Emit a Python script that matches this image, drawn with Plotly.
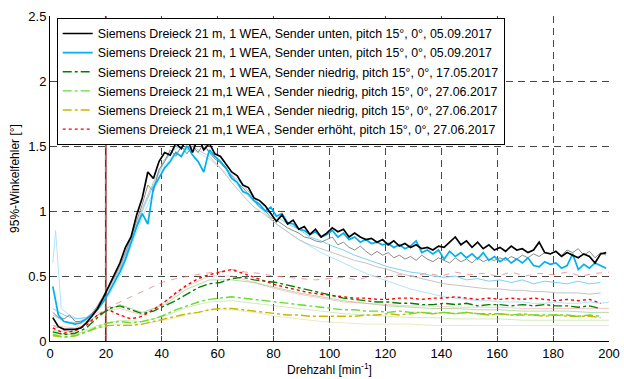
import plotly.graph_objects as go

# ---------------- data ----------------
x2 = list(range(1, 200, 2))          # 1,3,...,199
x4 = list(range(1, 200, 4))          # 1,5,...,197
x8 = [1, 9, 17, 25, 33, 41, 49, 57, 65, 73, 81, 89, 97, 105, 113, 121, 129, 137,
      145, 153, 161, 169, 177, 185, 193, 200]

black_y = [0.18, 0.11, 0.09, 0.09, 0.09, 0.10, 0.14, 0.19, 0.25, 0.33,
           0.42, 0.50, 0.60, 0.72, 0.80, 0.97, 1.10, 1.30, 1.25, 1.38,
           1.45, 1.43, 1.52, 1.48, 1.56, 1.45, 1.57, 1.47, 1.52, 1.44,
           1.42, 1.36, 1.30, 1.27, 1.20, 1.18, 1.10, 1.08, 1.04, 0.98,
           0.92, 0.97, 0.90, 0.93, 0.86, 0.88, 0.82, 0.86, 0.80, 0.83,
           0.87, 0.84, 0.86, 0.80, 0.83, 0.80, 0.78, 0.79, 0.76, 0.78,
           0.74, 0.77, 0.73, 0.75, 0.72, 0.74, 0.71, 0.72, 0.70, 0.73,
           0.72, 0.76, 0.80, 0.74, 0.77, 0.72, 0.76, 0.71, 0.74, 0.70,
           0.72, 0.69, 0.73, 0.70, 0.71, 0.68, 0.70, 0.76, 0.68, 0.67,
           0.69, 0.65, 0.68, 0.66, 0.64, 0.67, 0.65, 0.60, 0.67, 0.68]

blue_y = [0.42, 0.20, 0.15, 0.14, 0.13, 0.14, 0.17, 0.20, 0.24, 0.30,
          0.37, 0.45, 0.53, 0.63, 0.75, 0.88, 0.98, 0.90, 1.18, 1.25,
          1.33, 1.38, 1.45, 1.42, 1.50, 1.43, 1.38, 1.30, 1.47, 1.42,
          1.38, 1.33, 1.25, 1.22, 1.15, 1.13, 1.08, 1.05, 1.00, 1.03,
          0.96, 0.98, 0.91, 0.90, 0.86, 0.85, 0.82, 0.84, 0.80, 0.82,
          0.85, 0.80, 0.83, 0.78, 0.80, 0.76, 0.78, 0.75, 0.76, 0.74,
          0.75, 0.72, 0.74, 0.71, 0.73, 0.77, 0.68, 0.70, 0.67, 0.70,
          0.63, 0.69, 0.65, 0.68, 0.64, 0.67, 0.63, 0.68, 0.62, 0.65,
          0.61, 0.64, 0.60, 0.63, 0.60, 0.64, 0.58, 0.57, 0.61, 0.59,
          0.60, 0.56, 0.58, 0.67, 0.55, 0.59, 0.56, 0.60, 0.58, 0.56]

gray_y = [0.22, 0.18, 0.17, 0.20, 0.15, 0.15, 0.17, 0.21, 0.27, 0.34,
          0.42, 0.49, 0.58, 0.68, 0.80, 0.93, 1.05, 1.20, 1.15, 1.32,
          1.38, 1.47, 1.42, 1.50, 1.44, 1.50, 1.45, 1.52, 1.45, 1.40,
          1.37, 1.32, 1.27, 1.22, 1.18, 1.13, 1.08, 1.03, 1.00, 0.95,
          0.93, 0.90, 0.87, 0.85, 0.83, 0.80, 0.79, 0.77, 0.76, 0.78,
          0.80, 0.74, 0.76, 0.72, 0.70, 0.73, 0.69, 0.66, 0.69, 0.66,
          0.68, 0.64, 0.66, 0.63, 0.65, 0.62, 0.66, 0.63, 0.61, 0.64,
          0.62, 0.60, 0.64, 0.61, 0.63, 0.60, 0.64, 0.61, 0.63, 0.62,
          0.64, 0.62, 0.65, 0.63, 0.66, 0.64, 0.67, 0.65, 0.68, 0.67,
          0.69, 0.66, 0.70, 0.68, 0.71, 0.66, 0.69, 0.64, 0.68, 0.66]

lightgray_y = [0.20, 0.15, 0.14, 0.17, 0.26, 0.40, 0.56, 0.78, 1.02, 1.22,
               1.40, 1.48, 1.52, 1.47, 1.42, 1.33, 1.22, 1.12, 1.03, 0.97,
               0.90, 0.84, 0.78, 0.74, 0.71, 0.68, 0.65, 0.62, 0.60, 0.57,
               0.55, 0.52, 0.50, 0.48, 0.46, 0.44, 0.43, 0.42, 0.41, 0.40,
               0.40, 0.39, 0.39, 0.38, 0.38, 0.37, 0.37, 0.37, 0.36, 0.37]

lightblue_y = [0.25, 0.20, 0.17, 0.18, 0.25, 0.38, 0.55, 0.77, 1.00, 1.20,
               1.38, 1.50, 1.47, 1.53, 1.45, 1.38, 1.28, 1.20, 1.10, 1.00,
               0.96, 0.90, 0.86, 0.80, 0.77, 0.73, 0.70, 0.66, 0.63, 0.60,
               0.57, 0.55, 0.53, 0.52, 0.50, 0.49, 0.50, 0.47, 0.48, 0.46,
               0.47, 0.45, 0.47, 0.44, 0.46, 0.45, 0.44, 0.46, 0.44, 0.45]

paleblue_x = [1, 2, 4, 7, 10, 13, 17, 21, 25, 29, 33, 37, 41, 45, 49, 53, 57, 61,
              65, 69, 73, 77, 81, 85, 89, 93, 97, 101, 105, 109, 113, 117, 121,
              125, 129, 133, 137, 141, 145, 149, 153, 157, 161, 165, 169, 173,
              177, 181, 185, 189, 193, 197, 200]
paleblue_y = [0.60, 0.85, 0.25, 0.20, 0.17, 0.18, 0.24, 0.35, 0.50, 0.72, 0.95,
              1.15, 1.35, 1.45, 1.50, 1.45, 1.40, 1.33, 1.25, 1.15, 1.07, 0.98,
              0.90, 0.84, 0.78, 0.73, 0.68, 0.64, 0.60, 0.56, 0.52, 0.49, 0.46,
              0.43, 0.40, 0.38, 0.36, 0.34, 0.33, 0.32, 0.31, 0.31, 0.30, 0.30,
              0.30, 0.29, 0.29, 0.30, 0.29, 0.29, 0.30, 0.29, 0.30]

pink_x = [1, 5, 10, 15, 20, 25, 30, 35, 40, 45, 50, 55, 60, 65, 70, 75, 80, 85,
          90, 95, 100, 105, 110, 115, 120, 125, 130, 135, 140, 145, 150, 155,
          160, 165, 170, 175, 180, 185, 190, 195, 200]
pink_y = [0.12, 0.08, 0.10, 0.16, 0.25, 0.30, 0.35, 0.40, 0.45, 0.48, 0.50,
          0.52, 0.53, 0.55, 0.53, 0.52, 0.50, 0.49, 0.48, 0.47, 0.48, 0.49,
          0.47, 0.50, 0.49, 0.51, 0.50, 0.52, 0.50, 0.53, 0.51, 0.52, 0.50,
          0.53, 0.50, 0.52, 0.51, 0.53, 0.50, 0.52, 0.53]

red_y = [0.10, 0.06, 0.08, 0.12, 0.20, 0.24, 0.20, 0.17, 0.19, 0.24,
         0.30, 0.37, 0.43, 0.48, 0.51, 0.53, 0.55, 0.52, 0.49, 0.46,
         0.43, 0.41, 0.39, 0.37, 0.36, 0.35, 0.34, 0.33, 0.33, 0.32,
         0.32, 0.33, 0.33, 0.32, 0.33, 0.33, 0.34, 0.33, 0.32, 0.33,
         0.32, 0.33, 0.32, 0.33, 0.32, 0.31, 0.32, 0.31, 0.32, 0.29]

dkgreen_y = [0.07, 0.05, 0.06, 0.10, 0.18, 0.25, 0.27, 0.24, 0.21, 0.23,
             0.27, 0.31, 0.36, 0.41, 0.44, 0.45, 0.48, 0.49, 0.47, 0.46,
             0.45, 0.43, 0.41, 0.39, 0.37, 0.35, 0.33, 0.32, 0.31, 0.30,
             0.30, 0.29, 0.29, 0.28, 0.28, 0.29, 0.28, 0.29, 0.27, 0.28,
             0.28, 0.27, 0.28, 0.27, 0.28, 0.27, 0.27, 0.26, 0.27, 0.25]

ltgreen_y = [0.05, 0.03, 0.04, 0.07, 0.11, 0.14, 0.15, 0.14, 0.15, 0.17,
             0.20, 0.24, 0.27, 0.30, 0.32, 0.33, 0.34, 0.33, 0.32, 0.31,
             0.30, 0.29, 0.28, 0.27, 0.26, 0.25, 0.24, 0.24, 0.23, 0.23,
             0.22, 0.23, 0.22, 0.22, 0.21, 0.22, 0.21, 0.22, 0.21, 0.21,
             0.21, 0.20, 0.21, 0.20, 0.20, 0.20, 0.20, 0.19, 0.20, 0.19]

yellow_y = [0.04, 0.03, 0.04, 0.07, 0.10, 0.12, 0.12, 0.12, 0.13, 0.15,
            0.17, 0.19, 0.21, 0.22, 0.24, 0.25, 0.25, 0.24, 0.23, 0.22,
            0.21, 0.20, 0.20, 0.19, 0.19, 0.19, 0.19, 0.19, 0.20, 0.20,
            0.21, 0.20, 0.21, 0.22, 0.21, 0.22, 0.21, 0.22, 0.21, 0.20,
            0.21, 0.20, 0.20, 0.20, 0.19, 0.20, 0.19, 0.19, 0.19, 0.18]

palegreenA_y = [0.08, 0.07, 0.20, 0.28, 0.22, 0.28, 0.40, 0.47, 0.47, 0.45, 0.41, 0.37, 0.34,
                0.31, 0.29, 0.27, 0.26, 0.25, 0.25, 0.24, 0.24, 0.23, 0.23, 0.23, 0.22, 0.22]
palegreenB_y = [0.06, 0.05, 0.12, 0.16, 0.15, 0.19, 0.26, 0.30, 0.31, 0.29, 0.27, 0.25, 0.23,
                0.21, 0.20, 0.19, 0.18, 0.18, 0.17, 0.17, 0.17, 0.16, 0.16, 0.16, 0.16, 0.16]
paleyellow_y = [0.05, 0.05, 0.10, 0.13, 0.13, 0.16, 0.20, 0.24, 0.24, 0.22, 0.19, 0.17, 0.15,
                0.14, 0.13, 0.13, 0.13, 0.12, 0.12, 0.12, 0.12, 0.12, 0.12, 0.12, 0.12, 0.12]
palepink_y = [0.12, 0.10, 0.22, 0.25, 0.20, 0.30, 0.42, 0.50, 0.50, 0.45, 0.40, 0.36, 0.33,
              0.30, 0.29, 0.28, 0.27, 0.27, 0.26, 0.26, 0.26, 0.25, 0.25, 0.25, 0.25, 0.25]

marker_x = [20, 20]
marker_y = [0, 2.5]

labels = [
    "Siemens Dreieck 21 m, 1 WEA, Sender unten, pitch 15°, 0°, 05.09.2017",
    "Siemens Dreieck 21 m, 1 WEA, Sender unten, pitch 15°, 0°, 05.09.2017",
    "Siemens Dreieck 21 m, 1 WEA, Sender niedrig, pitch 15°, 0°, 17.05.2017",
    "Siemens Dreieck 21 m,1 WEA , Sender niedrig, pitch 15°, 0°, 27.06.2017",
    "Siemens Dreieck 21 m,1 WEA , Sender niedrig, pitch 15°, 0°, 27.06.2017",
    "Siemens Dreieck 21 m,1 WEA , Sender erhöht, pitch 15°, 0°, 27.06.2017",
]

x_ticks = [0, 20, 40, 60, 80, 100, 120, 140, 160, 180, 200]
y_ticks = [0, 0.5, 1, 1.5, 2, 2.5]
y_tick_text = ["0", "0.5", "1", "1.5", "2", "2.5"]

# ---------------- figure ----------------
fig = go.Figure()

def bg(x, y, color, width=1.0, dash="solid"):
    fig.add_trace(go.Scatter(x=x, y=y, mode="lines", showlegend=False,
                             hoverinfo="skip",
                             line=dict(color=color, width=width, dash=dash)))

# faint, unlabelled curves
bg(x8, paleyellow_y, "rgba(220,215,140,0.55)")
bg(x8, palegreenB_y, "rgba(170,220,130,0.55)")
bg(x8, palegreenA_y, "rgba(120,190,100,0.55)")
bg(x8, palepink_y, "rgba(240,150,150,0.5)")
bg(pink_x, pink_y, "rgba(240,120,120,0.75)", 1.0, "6px,6px")
bg(paleblue_x, paleblue_y, "rgba(170,225,248,0.9)")
bg(x4, lightgray_y, "#c4c4c4")
bg(x4, lightblue_y, "#7fd0f5")
bg(x2, gray_y, "#8a8a8a")

fig.add_trace(go.Scatter(x=marker_x, y=marker_y, mode="lines", showlegend=False,
                         hoverinfo="skip",
                         line=dict(color="rgba(140,40,40,0.7)", width=2)))

main = [
    (x4, red_y, "#ff0000", "dot", 1.4, 6),
    (x4, yellow_y, "#c8b800", "dashdot", 1.4, 5),
    (x4, ltgreen_y, "#66dd33", "dashdot", 1.4, 4),
    (x4, dkgreen_y, "#008000", "dashdot", 1.4, 3),
    (x2, blue_y, "#00b0f0", "solid", 1.7, 2),
    (x2, black_y, "#000000", "solid", 1.7, 1),
]
for xs, ys, col, dash, w, rank in main:
    fig.add_trace(go.Scatter(x=xs, y=ys, mode="lines", name=labels[rank - 1],
                             legendrank=rank,
                             line=dict(color=col, width=w, dash=dash)))

font_family = "Liberation Sans, Arial, sans-serif"

fig.update_layout(
    template="none",
    width=624, height=379,
    margin=dict(l=50, r=15, t=16, b=38, autoexpand=False),
    paper_bgcolor="white", plot_bgcolor="white",
    font=dict(family=font_family, size=13, color="black"),
    legend=dict(x=0.012, y=0.994, xanchor="left", yanchor="top",
                bgcolor="white", bordercolor="black", borderwidth=1,
                font=dict(size=12.4, family=font_family),
                tracegroupgap=0, itemwidth=30),
    xaxis=dict(range=[0, 200], tickvals=x_ticks, ticks="inside", ticklen=5,
               automargin=False,
               showline=True, linecolor="black", linewidth=1,
               showgrid=True, gridcolor="rgba(40,40,40,0.85)", griddash="7px,5px",
               gridwidth=1, zeroline=False,
               title=dict(text="Drehzahl [min<sup>-1</sup>]", font=dict(size=12),
                          standoff=4),
               tickfont=dict(size=13)),
    yaxis=dict(range=[0, 2.5], tickvals=y_ticks, ticktext=y_tick_text,
               ticks="inside", ticklen=5, automargin=False,
               showline=True, linecolor="black", linewidth=1,
               showgrid=True, gridcolor="rgba(40,40,40,0.85)", griddash="7px,5px",
               gridwidth=1, zeroline=False,
               title=dict(text="95%-Winkelfehler [°]", font=dict(size=12),
                          standoff=6),
               tickfont=dict(size=13)),
)

fig.write_html("out.html")
